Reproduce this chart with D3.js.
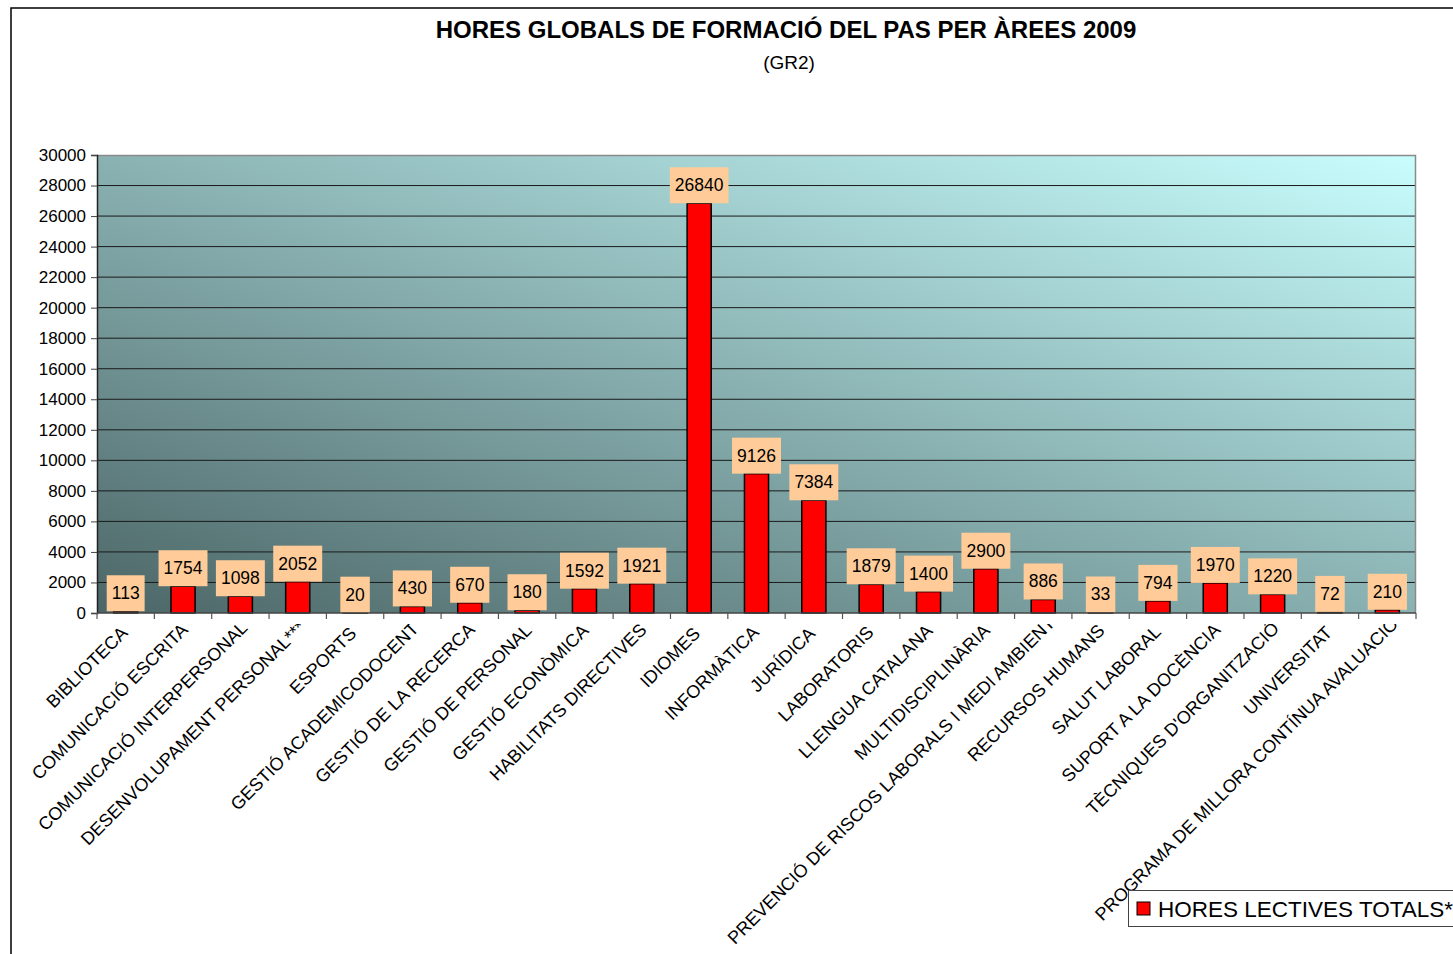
<!DOCTYPE html>
<html>
<head>
<meta charset="utf-8">
<script src="https://cdn.jsdelivr.net/npm/d3@7"></script>
<style>
  body { margin: 0; background: #fff; overflow: hidden; }
  text { font-family: "Liberation Sans", Arial, sans-serif; fill: #000; }
</style>
</head>
<body>
<div class="chart"></div>
<script>
// categories and values
var areas = ["BIBLIOTECA", "COMUNICACIÓ ESCRITA", "COMUNICACIÓ INTERPERSONAL",
  "DESENVOLUPAMENT PERSONAL***", "ESPORTS", "GESTIÓ ACADEMICODOCENT",
  "GESTIÓ DE LA RECERCA", "GESTIÓ DE PERSONAL", "GESTIÓ ECONÒMICA",
  "HABILITATS DIRECTIVES", "IDIOMES", "INFORMÀTICA", "JURÍDICA", "LABORATORIS",
  "LLENGUA CATALANA", "MULTIDISCIPLINÀRIA", "PREVENCIÓ DE RISCOS LABORALS I MEDI AMBIENT",
  "RECURSOS HUMANS", "SALUT LABORAL", "SUPORT A LA DOCÈNCIA",
  "TÈCNIQUES D'ORGANITZACIÓ", "UNIVERSITAT", "PROGRAMA DE MILLORA CONTÍNUA AVALUACIÓ"];
var hores = [113, 1754, 1098, 2052, 20, 430, 670, 180, 1592, 1921, 26840, 9126, 7384,
  1879, 1400, 2900, 886, 33, 794, 1970, 1220, 72, 210];
var yTicks = d3.range(0, 30001, 2000);
var seriesName = "HORES LECTIVES TOTALS*";

var W = 1453, H = 954;
var margin = {top: 155, right: 37, bottom: 341, left: 97},
    width = W - margin.left - margin.right,
    height = H - margin.top - margin.bottom;

var svg = d3.select(".chart").append("svg")
    .attr("width", W)
    .attr("height", H);

// outer frame
svg.append("path")
    .attr("d", "M11," + H + "V8H" + W)
    .style("fill", "none")
    .style("stroke", "#000")
    .style("stroke-width", 1.5);

// titles
svg.append("text")
    .attr("x", 786).attr("y", 38)
    .attr("text-anchor", "middle")
    .style("font-size", "24px")
    .style("font-weight", "bold")
    .text("HORES GLOBALS DE FORMACIÓ DEL PAS PER ÀREES 2009");
svg.append("text")
    .attr("x", 789).attr("y", 69)
    .attr("text-anchor", "middle")
    .style("font-size", "19px")
    .text("(GR2)");

var defs = svg.append("defs");
var grad = defs.append("linearGradient")
    .attr("id", "bg")
    .attr("x1", 0).attr("y1", 1).attr("x2", 1).attr("y2", 0);
grad.append("stop").attr("offset", 0).attr("stop-color", "#4c6667");
grad.append("stop").attr("offset", 1).attr("stop-color", "#c9fefe");

// category labels are cut just under the axis, as in the original
defs.append("clipPath").attr("id", "lblclip")
  .append("rect")
    .attr("x", 0).attr("y", margin.top + height + 11)
    .attr("width", W).attr("height", H);

var g = svg.append("g")
    .attr("transform", "translate(" + margin.left + "," + margin.top + ")");

// scales
var x = d3.scaleBand().domain(areas).range([0, width]).padding(0);
var y = d3.scaleLinear().domain([0, 30000]).range([height, 0]);
var barW = x.bandwidth() * 0.42;

// plot area
g.append("rect")
    .attr("width", width).attr("height", height)
    .style("fill", "url(#bg)");

// gridlines
g.selectAll(".grid")
    .data(yTicks.slice(1, -1))
  .enter().append("line")
    .attr("x1", 0).attr("x2", width)
    .attr("y1", function(d) { return y(d); })
    .attr("y2", function(d) { return y(d); })
    .style("stroke", "#1a1a1a")
    .style("stroke-width", 1);

// plot border top and right
g.append("path")
    .attr("d", "M0,0.5H" + (width - 0.5) + "V" + height)
    .style("fill", "none")
    .style("stroke", "#8a8a8a")
    .style("stroke-width", 1.5);

// bars
g.selectAll(".bar")
    .data(hores)
  .enter().append("rect")
    .attr("x", function(d, i) { return x(areas[i]) + (x.bandwidth() - barW) / 2; })
    .attr("y", function(d) { return y(d); })
    .attr("width", barW)
    .attr("height", function(d) { return height - y(d); })
    .style("fill", "#ff0000")
    .style("stroke", "#000")
    .style("stroke-width", 1.5);

// value labels
var lbl = g.selectAll(".lbl")
    .data(hores)
  .enter().append("g")
    .attr("transform", function(d, i) {
      return "translate(" + (x(areas[i]) + x.bandwidth() / 2) + "," + y(d) + ")";
    });
lbl.append("text")
    .attr("text-anchor", "middle")
    .attr("y", -12)
    .style("font-size", "17.5px")
    .text(function(d) { return d; })
    .each(function() {
      var w = this.getComputedTextLength();
      d3.select(this.parentNode).insert("rect", "text")
        .attr("x", -w / 2 - 5).attr("y", -36)
        .attr("width", w + 10).attr("height", 36)
        .style("fill", "#ffcc99");
    });

// y axis
var yAxis = g.append("g")
    .call(d3.axisLeft(y).tickValues(yTicks).tickFormat(d3.format("d"))
      .tickSize(6).tickPadding(5));
yAxis.selectAll("text").style("font-size", "17px");
yAxis.select(".domain").style("stroke", "#222").style("stroke-width", 1.5);
yAxis.selectAll(".tick line").style("stroke", "#444");

// x axis line and ticks at category boundaries
g.append("line")
    .attr("x1", 0).attr("x2", width)
    .attr("y1", height).attr("y2", height)
    .style("stroke", "#444")
    .style("stroke-width", 1.5);
g.selectAll(".xtick")
    .data(areas.concat([null]))
  .enter().append("line")
    .attr("x1", function(d, i) { return i * x.step(); })
    .attr("x2", function(d, i) { return i * x.step(); })
    .attr("y1", height).attr("y2", height + 6)
    .style("stroke", "#555")
    .style("stroke-width", 1.2);

// category labels (long ones overflow a little and get cut by the clip)
var xl = svg.append("g")
    .attr("clip-path", "url(#lblclip)")
  .append("g")
    .attr("transform", "translate(" + margin.left + "," + (margin.top + height) + ")");
xl.selectAll("text")
    .data(areas)
  .enter().append("text")
    .attr("text-anchor", "end")
    .attr("transform", function(d) {
      return "translate(" + (x(d) + x.bandwidth() / 2) + ",24) rotate(-45)";
    })
    .style("font-size", "18px")
    .text(function(d) { return d; })
    .attr("x", function() { return this.getComputedTextLength() * 0.04; });

// legend
var leg = svg.append("g").attr("transform", "translate(1128,890)");
leg.append("rect")
    .attr("x", 0.5).attr("y", 0.5)
    .attr("width", 340).attr("height", 36)
    .style("fill", "#fff")
    .style("stroke", "#444");
leg.append("rect")
    .attr("x", 9).attr("y", 12)
    .attr("width", 13).attr("height", 13)
    .style("fill", "#ff0000")
    .style("stroke", "#000");
leg.append("text")
    .attr("x", 30).attr("y", 27)
    .style("font-size", "22.5px")
    .text(seriesName);
</script>
</body>
</html>
